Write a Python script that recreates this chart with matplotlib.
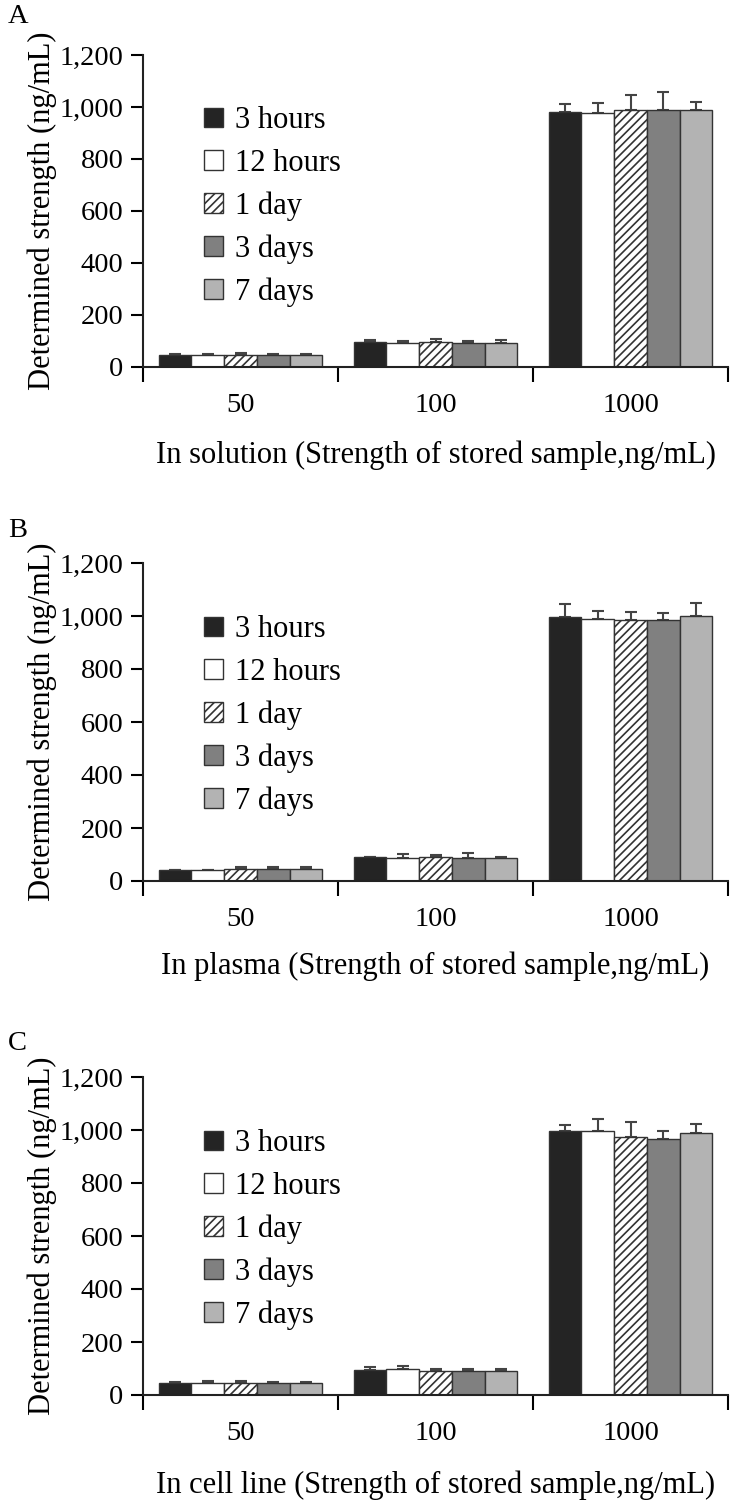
import numpy as np
import matplotlib.pyplot as plt

plt.rcParams['font.family'] = ['Liberation Serif', 'DejaVu Serif']
plt.rcParams['hatch.linewidth'] = 1.2
plt.rcParams['hatch.color'] = '#333333'

""" data read off the figure """
groups = ['50', '100', '1000']
series = ['3 hours', '12 hours', '1 day', '3 days', '7 days']

# A: in solution
a_3h = [46, 97, 982]
a_12h = [45, 92, 977]
a_1d = [46, 95, 988]
a_3d = [46, 93, 989]
a_7d = [45, 93, 989]
a_3h_err = [5, 5, 30]
a_12h_err = [4, 9, 37]
a_1d_err = [6, 14, 57]
a_3d_err = [5, 8, 68]
a_7d_err = [4, 9, 32]

# B: in plasma
b_3h = [42, 90, 995]
b_12h = [42, 88, 990]
b_1d = [44, 90, 985]
b_3d = [44, 88, 985]
b_7d = [44, 88, 1000]
b_3h_err = [1, 1, 50]
b_12h_err = [1, 15, 30]
b_1d_err = [8, 10, 30]
b_3d_err = [10, 18, 25]
b_7d_err = [7, 1, 48]

# C: in cell line
c_3h = [45, 95, 995]
c_12h = [45, 100, 995]
c_1d = [45, 90, 975]
c_3d = [45, 92, 965]
c_7d = [45, 92, 988]
c_3h_err = [5, 10, 22]
c_12h_err = [8, 10, 45]
c_1d_err = [6, 8, 55]
c_3d_err = [5, 8, 30]
c_7d_err = [4, 6, 35]

colors = ['#242424', '#ffffff', '#ffffff', '#808080', '#b3b3b3']
hatches = [None, None, '////', None, None]
FS = 22       # labels and legend
TFS = 20.5    # tick labels


def draw_panel(ax, means, errs, xlabel, xlabelpad):
    x = np.arange(len(groups))
    w = 0.168
    for i, (m, e) in enumerate(zip(means, errs)):
        pos = x + (i - 2) * w
        ax.bar(pos, m, w, color=colors[i], edgecolor='#333333',
               linewidth=1.0, hatch=hatches[i], label=series[i], zorder=2)
        ax.errorbar(pos, m, yerr=[np.zeros(len(e)), e], fmt='none',
                    ecolor='#444444', elinewidth=1.5, capsize=4,
                    capthick=1.5, zorder=1)
    ax.set_xlim(-0.5, 2.5)
    ax.set_ylim(0, 1200)
    ax.set_yticks(range(0, 1201, 200))
    ax.set_yticklabels(['0', '200', '400', '600', '800', '1,000', '1,200'])
    ax.set_xticks(x)
    ax.set_xticklabels(groups)
    ax.set_xticks([-0.5, 0.5, 1.5, 2.5], minor=True)
    ax.tick_params(axis='x', which='major', length=0, pad=19, labelsize=TFS)
    ax.tick_params(axis='x', which='minor', length=11, width=1.5,
                   direction='out')
    ax.tick_params(axis='y', length=9, width=1.5, labelsize=TFS, pad=5)
    for s in ['top', 'right']:
        ax.spines[s].set_visible(False)
    for s in ['left', 'bottom']:
        ax.spines[s].set_linewidth(1.5)
        ax.spines[s].set_color('#222222')
    ax.set_ylabel('Determined strength (ng/mL)', fontsize=FS, labelpad=2)
    ax.set_xlabel(xlabel, fontsize=FS, labelpad=xlabelpad)
    ax.legend(loc='upper left', bbox_to_anchor=(0.105, 0.835), frameon=False,
              fontsize=FS, handlelength=0.6, handleheight=0.6,
              handletextpad=0.4, labelspacing=0.44, borderpad=0,
              borderaxespad=0)


fig = plt.figure(figsize=(7.4, 15.02), dpi=100)
W, H = 740, 1502
left, right = 143, 728

ax1 = fig.add_axes([left / W, 1 - 367 / H, (right - left) / W, 312 / H])
draw_panel(ax1, [a_3h, a_12h, a_1d, a_3d, a_7d],
           [a_3h_err, a_12h_err, a_1d_err, a_3d_err, a_7d_err],
           'In solution (Strength of stored sample,ng/mL)', 16)
fig.text(8 / W, 1 - 4 / H, 'A', fontsize=TFS, va='top', ha='left')

ax2 = fig.add_axes([left / W, 1 - 881 / H, (right - left) / W, 318 / H])
draw_panel(ax2, [b_3h, b_12h, b_1d, b_3d, b_7d],
           [b_3h_err, b_12h_err, b_1d_err, b_3d_err, b_7d_err],
           'In plasma (Strength of stored sample,ng/mL)', 14)
fig.text(8 / W, 1 - 518 / H, 'B', fontsize=TFS, va='top', ha='left')

ax3 = fig.add_axes([left / W, 1 - 1395 / H, (right - left) / W, 318 / H])
draw_panel(ax3, [c_3h, c_12h, c_1d, c_3d, c_7d],
           [c_3h_err, c_12h_err, c_1d_err, c_3d_err, c_7d_err],
           'In cell line (Strength of stored sample,ng/mL)', 17)
fig.text(8 / W, 1 - 1031 / H, 'C', fontsize=TFS, va='top', ha='left')

fig.savefig('out.png', dpi=100)
